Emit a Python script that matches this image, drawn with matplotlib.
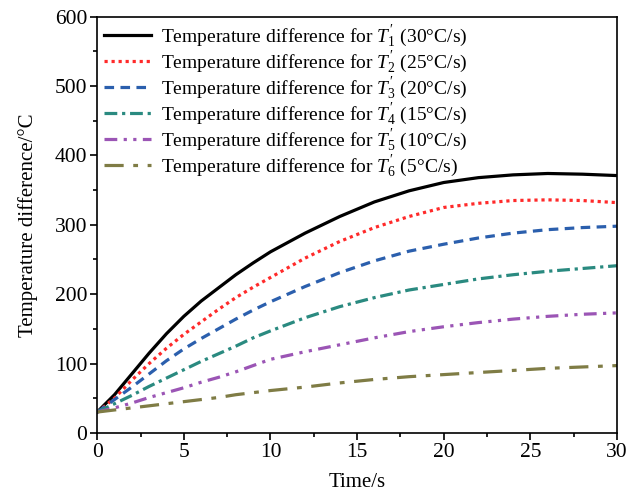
import matplotlib
matplotlib.use('Agg')
import matplotlib.pyplot as plt
from matplotlib.ticker import MultipleLocator

plt.rcParams['font.family'] = 'Liberation Serif'
plt.rcParams['mathtext.fontset'] = 'custom'
plt.rcParams['mathtext.rm'] = 'Liberation Serif'
plt.rcParams['mathtext.it'] = 'Liberation Serif:italic'

time = [0, 1, 2, 3, 4, 5, 6, 7, 8, 9, 10, 12, 14, 16, 18, 20, 22, 24, 26, 28, 30]
t1 = [30, 55, 85, 115, 143, 168, 190, 209, 228, 245, 261, 288, 312, 333, 349, 361, 368, 372, 374, 373, 371]
t2 = [30, 50, 76, 100, 122, 142, 160, 178, 195, 210, 224, 252, 276, 296, 312, 325, 331, 335, 336, 335, 332]
t3 = [30, 48, 66, 85, 104, 121, 136, 150, 164, 177, 189, 211, 231, 248, 262, 272, 281, 288, 293, 296, 298]
t4 = [30, 42, 54, 67, 79, 91, 103, 114, 125, 137, 147, 166, 182, 195, 206, 214, 222, 228, 233, 237, 241]
t5 = [30, 36, 43, 51, 58, 65, 73, 80, 88, 97, 106, 117, 127, 137, 146, 153, 159, 164, 168, 171, 173]
t6 = [30, 33, 36, 39, 42, 45, 48, 51, 55, 58, 61, 66, 72, 77, 81, 84, 87, 90, 93, 95, 97]
rates = ['30', '25', '20', '15', '10', '5']

series = [t1, t2, t3, t4, t5, t6]
colors = ['black', '#ff2a2a', '#2b5fad', '#2a8a80', '#9b55b5', '#7f7c45']
styles = ['-', (0, (1, 1.2)), (0, (3, 2)), (0, (4, 1.5, 1, 1.5)),
          (0, (4, 2, 1, 2, 1, 2)), (0, (6, 3, 1.5, 3))]

fig = plt.figure(figsize=(6.27, 4.93), dpi=100)
ax = fig.add_axes([0.155, 0.122, 0.829, 0.844])

for i, (y, c, ls, r) in enumerate(zip(series, colors, styles, rates)):
    label = 'Temperature difference for $T_{%d}^{′}$ (%s°C/s)' % (i + 1, r)
    ax.plot(time, y, color=c, linestyle=ls, linewidth=2.3, label=label)

ax.set_xlim(0, 30)
ax.set_ylim(0, 600)
ax.xaxis.set_major_locator(MultipleLocator(5))
ax.xaxis.set_minor_locator(MultipleLocator(2.5))
ax.yaxis.set_major_locator(MultipleLocator(100))
ax.yaxis.set_minor_locator(MultipleLocator(50))
ax.tick_params(which='major', direction='out', length=5, width=1.2, labelsize=15.5, pad=2)
ax.tick_params(which='minor', direction='out', length=3, width=1.2)
for s in ax.spines.values():
    s.set_linewidth(1.2)

ax.set_xlabel('Time/s', fontsize=15, labelpad=8)
ax.set_ylabel('Temperature difference/°C', fontsize=15, labelpad=12)

ax.legend(loc='upper left', bbox_to_anchor=(0.0, 1.0), frameon=False,
          fontsize=14, handlelength=2.4, labelspacing=0.0, borderaxespad=0.0,
          borderpad=0.35, handletextpad=0.55)

fig.savefig('out.png', dpi=100)
